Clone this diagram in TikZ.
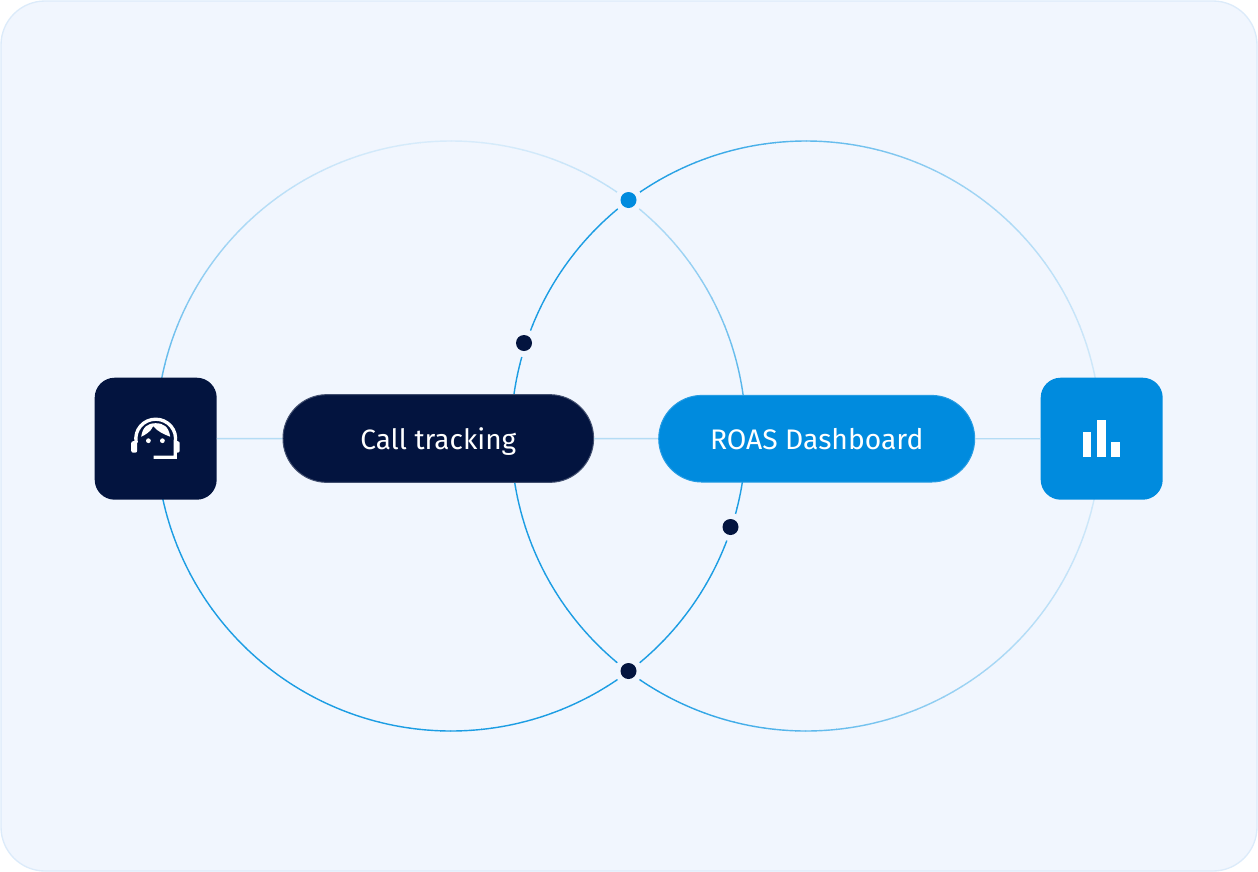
\documentclass[tikz,border=0pt]{standalone}
\usepackage{fontspec}
\setmainfont{Fira Sans}
\usetikzlibrary{shapes,arrows,positioning}

\definecolor{panelblue}{HTML}{F1F6FE}
\definecolor{panelline}{HTML}{DCEBFA}
\definecolor{navy}{HTML}{03143F}
\definecolor{azure}{HTML}{008BDE}
\definecolor{wire}{HTML}{B4DCF5}
\definecolor{ringblue}{HTML}{1C9DE3}

\tikzset{
    iconbox/.style={draw=none, rounded corners=15pt, minimum size=91.5pt, inner sep=0pt},
    pill/.style={rounded rectangle, inner sep=0pt, text=white, text height=16.5pt, text depth=0pt, font=\fontsize{21}{24}\selectfont},
    dot/.style={circle, inner sep=0pt, minimum size=12pt, draw=none},
    wireline/.style={draw=wire, line width=1pt},
    glyph/.style={draw=white, line width=2.5pt, line cap=butt, line join=miter}
}

\begin{document}
\begin{tikzpicture}[x=0.75pt,y=0.75pt,yscale=-1,xscale=1]
    \useasboundingbox (0,0) rectangle (1258,872);

    % Panel
    \draw [fill=panelblue, draw=panelline, line width=1pt, rounded corners=33pt] (1,1) rectangle (1257,871);

    % Left ring, fades towards the top
    \foreach \ang in {0,2,...,358} {
        \pgfmathsetmacro{\ymid}{436+295*sin(\ang+1)}
        \pgfmathsetmacro{\mixv}{max(12,min(100,12+88*((\ymid-141)/359)))}
        \draw [ringblue!\mixv!panelblue, line width=1.05pt] ({451+295*cos(\ang)},{436+295*sin(\ang)}) arc[start angle=\ang, end angle=\ang+2.1, radius=295];
    }
    % Right ring, fades towards the right
    \foreach \ang in {0,2,...,358} {
        \pgfmathsetmacro{\xmid}{806+295*cos(\ang+1)}
        \pgfmathsetmacro{\mixv}{max(15,min(100,100-85*((\xmid-640)/461)))}
        \draw [ringblue!\mixv!panelblue, line width=1.05pt] ({806+295*cos(\ang)},{436+295*sin(\ang)}) arc[start angle=\ang, end angle=\ang+2.1, radius=295];
    }

    % Dots on the rings
    \foreach \nm/\px/\py/\col in {topdot/628.5/200/azure, bottomdot/628.5/671/navy, upperdot/524/343/navy, lowerdot/730.5/527/navy} {
        \fill [panelblue] (\px,\py) circle (14);
        \node [dot, fill=\col] (\nm) at (\px,\py) {};
    }

    % Boxes
    \node [iconbox, fill=navy] (headset) at (155.7,438.7) {};
    \node [pill, fill=navy, draw=navy!75!white, line width=0.75pt, minimum width=233pt, minimum height=65.8pt] (calltrack) at (438.3,438.5) {Call tracking};
    \node [pill, fill=azure, draw=azure!85!white, line width=0.75pt, minimum width=237pt, minimum height=65pt, font=\fontsize{21.2}{24}\selectfont] (roas) at (816.7,438.7) {ROAS Dashboard};
    \node [iconbox, fill=azure] (barchart) at (1101.7,438.7) {};

    % Connectors
    \draw [wireline] (headset) -- (calltrack);
    \draw [wireline] (calltrack) -- (roas);
    \draw [wireline] (roas) -- (barchart);

    % Headset glyph
    \begin{scope}[shift={(155.7,438.7)}]
        \draw [glyph] (-19.5,4) .. controls (-22,-9) and (-12,-19.5) .. (0,-19.5) .. controls (12,-19.5) and (22,-9) .. (19.5,4) -- (19.5,18.5) -- (-2,18.5);
        \fill [white] (-14.5,-2) .. controls (-13,-12) and (-8,-15.5) .. (0,-15.5) .. controls (8,-15.5) and (13,-12) .. (14.5,-2) .. controls (9,-4) and (2,-7) .. (-2.5,-12.5) .. controls (-5,-7) and (-10,-4) .. (-14.5,-2) -- cycle;
        \fill [white, rounded corners=1.5pt] (-24.5,2.5) rectangle (-18.5,14);
        \fill [white, rounded corners=1.5pt] (18.5,2.5) rectangle (24,14);
        \fill [white] (-7.3,2) circle (2.4);
        \fill [white] (6.7,2) circle (2.4);
    \end{scope}

    % Bars glyph
    \begin{scope}[shift={(1101.7,438.7)}]
        \fill [white] (-18.7,-6.7) rectangle (-10.3,18.3);
        \fill [white] (-4.7,-18.7) rectangle (4,18.3);
        \fill [white] (9.7,3.7) rectangle (18.3,18.3);
    \end{scope}
\end{tikzpicture}
\end{document}
